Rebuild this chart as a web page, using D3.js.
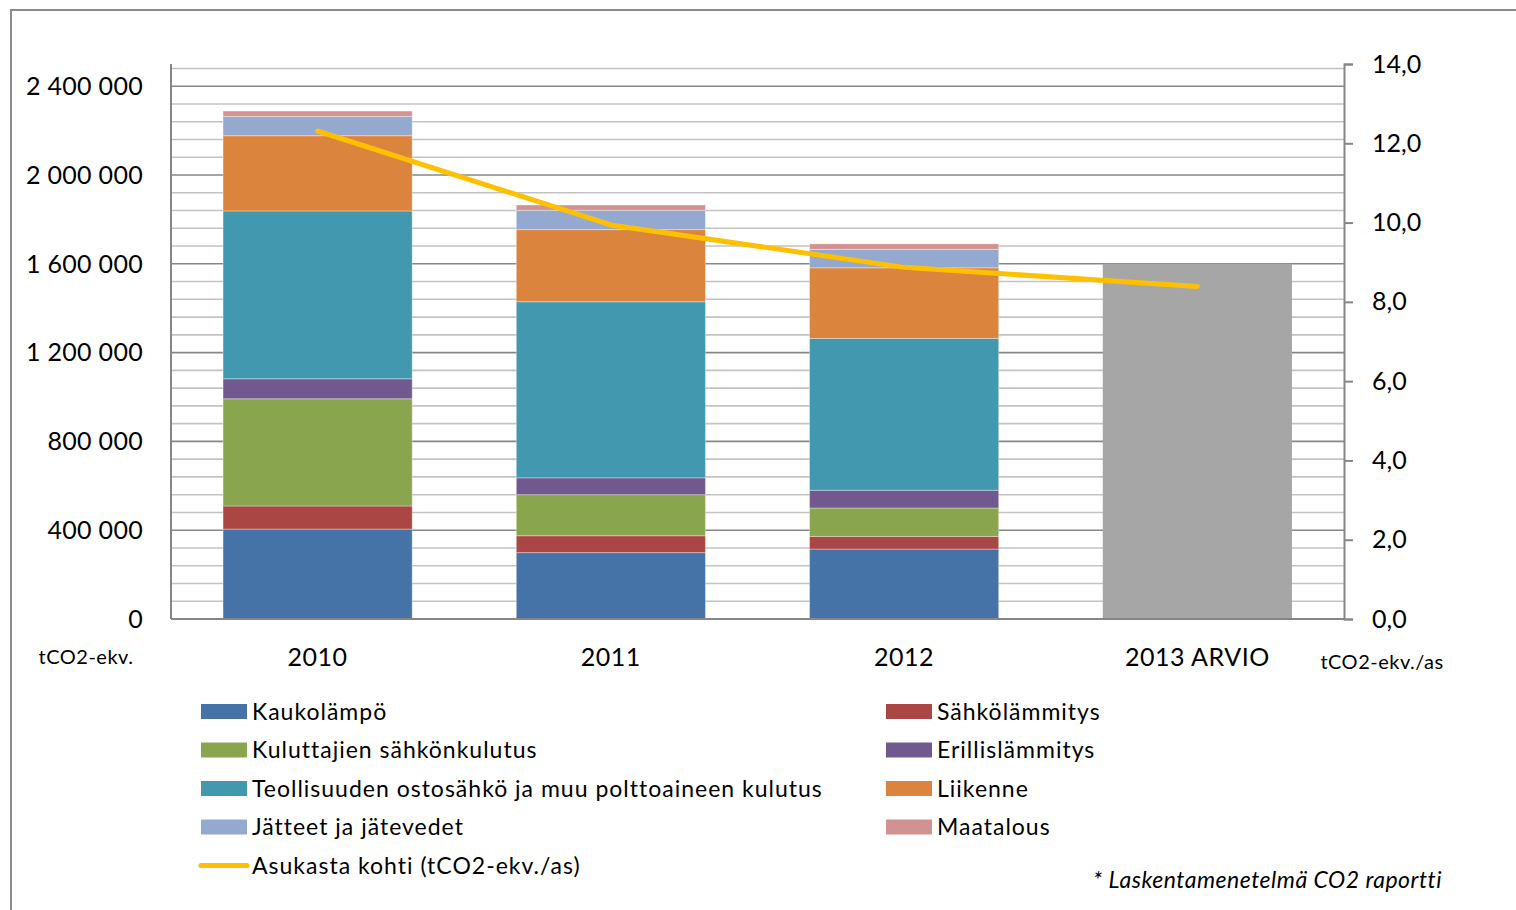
<!DOCTYPE html>
<meta charset='utf-8'>
<style>
	body { margin: 0; background: #fff; }
	svg { display: block; font-family: Lato, 'Open Sans', sans-serif; }
</style>
<body>
<div id='container'></div>
<script src='https://cdn.jsdelivr.net/npm/d3@7'></script>
<script>
	// categories and series
	const years = [ '2010', '2011', '2012', '2013 ARVIO' ];
	const seriesNames = [
		'Kaukolämpö', 'Sähkölämmitys', 'Kuluttajien sähkönkulutus', 'Erillislämmitys',
		'Teollisuuden ostosähkö ja muu polttoaineen kulutus', 'Liikenne', 'Jätteet ja jätevedet', 'Maatalous',
	];
	const seriesColors = [ '#4572A7', '#AA4643', '#89A54E', '#71588F', '#4198AF', '#DB843D', '#93A9CF', '#D19392' ];

	const kaukolampo     = [ 405000, 299000, 315000, 0 ];
	const sahkolammitys  = [ 104000,  76000,  57000, 0 ];
	const kuluttajat     = [ 483000, 185000, 128000, 0 ];
	const erillis        = [  90000,  76000,  80000, 0 ];
	const teollisuus     = [ 756000, 793000, 684000, 0 ];
	const liikenne       = [ 339000, 325000, 318000, 0 ];
	const jatteet        = [  87000,  87000,  83000, 0 ];
	const maatalous      = [  24000,  24000,  25000, 0 ];
	const arvio          = [ 0, 0, 0, 1600000 ];
	const perResident    = [ 12.31, 9.94, 8.87, 8.39 ];

	const leftTicks = [ 0, 400000, 800000, 1200000, 1600000, 2000000, 2400000 ];
	const rightTicks = [ 0, 2, 4, 6, 8, 10, 12, 14 ];

	const seriesValues = [ kaukolampo, sahkolammitys, kuluttajat, erillis, teollisuus, liikenne, jatteet, maatalous ];

	const W = 1516, H = 910;
	const plot = { left: 171, right: 1344, top: 64, bottom: 619 };

	const svg = d3.select( '#container' ).append( 'svg' )
		.attr( 'width', W ).attr( 'height', H );

	// outer chart frame
	svg.append( 'rect' )
		.attr( 'x', 11 ).attr( 'y', 10 )
		.attr( 'width', 1700 ).attr( 'height', 1000 )
		.style( 'fill', 'none' ).style( 'stroke', '#8c8c8c' ).style( 'stroke-width', 2 );

	const x = d3.scaleBand()
		.domain( years )
		.range( [ plot.left, plot.right ] )
		.paddingInner( 0.355 ).paddingOuter( 0.1775 );
	const y = d3.scaleLinear()
		.domain( [ 0, 2500000 ] )
		.range( [ plot.bottom, plot.top ] );
	const y2 = d3.scaleLinear()
		.domain( [ 0, 14 ] )
		.range( [ plot.bottom, plot.top ] );

	// gridlines: major every 400 000, minor every 80 000
	const gridVals = d3.range( 80000, 2500000, 80000 );
	svg.append( 'g' ).selectAll( 'line' )
		.data( gridVals )
		.enter().append( 'line' )
			.attr( 'x1', plot.left ).attr( 'x2', plot.right )
			.attr( 'y1', d => y( d ) ).attr( 'y2', d => y( d ) )
			.style( 'stroke', d => d % 400000 === 0 ? '#878787' : '#c3c3c3' )
			.style( 'stroke-width', 1.6 );

	// stacked bars
	const table = years.map( ( yr, i ) => {
		let row = { year: yr };
		seriesNames.forEach( ( s, j ) => row[ s ] = seriesValues[ j ][ i ] );
		row.arvio = arvio[ i ];
		return row;
	} );
	const stack = d3.stack().keys( seriesNames )( table );

	svg.append( 'g' ).selectAll( 'g' )
		.data( stack )
		.enter().append( 'g' )
			.style( 'fill', ( d, i ) => seriesColors[ i ] )
			.selectAll( 'rect' )
			.data( d => d.filter( v => v[ 1 ] > v[ 0 ] ) )
			.enter().append( 'rect' )
				.attr( 'x', d => x( d.data.year ) )
				.attr( 'width', x.bandwidth() )
				.attr( 'y', d => y( d[ 1 ] ) )
				.attr( 'height', d => y( d[ 0 ] ) - y( d[ 1 ] ) )
				.style( 'stroke', 'rgba(255,255,255,0.35)' )
				.style( 'stroke-width', 1 );

	svg.append( 'g' ).selectAll( 'rect' )
		.data( table.filter( d => d.arvio > 0 ) )
		.enter().append( 'rect' )
			.attr( 'x', d => x( d.year ) )
			.attr( 'width', x.bandwidth() )
			.attr( 'y', d => y( d.arvio ) )
			.attr( 'height', d => y( 0 ) - y( d.arvio ) )
			.style( 'fill', '#A6A6A6' );

	// axes lines
	svg.append( 'line' )
		.attr( 'x1', plot.left ).attr( 'x2', plot.left )
		.attr( 'y1', plot.top ).attr( 'y2', plot.bottom )
		.style( 'stroke', '#868686' ).style( 'stroke-width', 2 );
	svg.append( 'line' )
		.attr( 'x1', plot.left ).attr( 'x2', plot.right )
		.attr( 'y1', plot.bottom ).attr( 'y2', plot.bottom )
		.style( 'stroke', '#868686' ).style( 'stroke-width', 2 );

	const fmtLeft = d => d3.format( ',' )( d ).replace( /,/g, ' ' );
	svg.append( 'g' ).selectAll( 'text' )
		.data( leftTicks )
		.enter().append( 'text' )
			.attr( 'x', 143 )
			.attr( 'y', d => y( d ) )
			.attr( 'dy', '0.35em' )
			.style( 'text-anchor', 'end' )
			.style( 'font-size', '25px' )
			.style( 'letter-spacing', '0.3px' )
			.text( fmtLeft );

	// right axis
	const rightAxis = d3.axisRight( y2 )
		.tickValues( rightTicks )
		.tickSize( 9 )
		.tickPadding( 19 )
		.tickFormat( d => d3.format( '.1f' )( d ).replace( '.', ',' ) );
	const ra = svg.append( 'g' )
		.attr( 'transform', `translate( ${plot.right}, 0 )` )
		.call( rightAxis );
	ra.select( '.domain' ).style( 'stroke', '#868686' ).style( 'stroke-width', 2 );
	ra.selectAll( '.tick line' ).style( 'stroke', '#868686' ).style( 'stroke-width', 2 );
	ra.selectAll( '.tick text' )
		.style( 'font-size', '25px' )
		.style( 'font-family', 'Lato, sans-serif' )
		.style( 'fill', '#000' );

	// category labels
	svg.append( 'g' ).selectAll( 'text' )
		.data( years )
		.enter().append( 'text' )
			.attr( 'x', d => x( d ) + x.bandwidth() / 2 )
			.attr( 'y', 657 )
			.attr( 'dy', '0.35em' )
			.style( 'text-anchor', 'middle' )
			.style( 'font-size', '25px' )
			.style( 'letter-spacing', '0.5px' )
			.text( d => d );

	svg.append( 'text' )
		.attr( 'x', 86 ).attr( 'y', 657 ).attr( 'dy', '0.35em' )
		.style( 'text-anchor', 'middle' ).style( 'font-size', '20px' )
		.style( 'letter-spacing', '0.5px' )
		.text( 'tCO2-ekv.' );
	svg.append( 'text' )
		.attr( 'x', 1382 ).attr( 'y', 662 ).attr( 'dy', '0.35em' )
		.style( 'text-anchor', 'middle' ).style( 'font-size', '20px' )
		.style( 'letter-spacing', '0.5px' )
		.text( 'tCO2-ekv./as' );

	// per resident line
	const line = d3.line()
		.x( ( d, i ) => x( years[ i ] ) + x.bandwidth() / 2 )
		.y( d => y2( d ) );
	svg.append( 'path' )
		.datum( perResident )
		.attr( 'd', line )
		.style( 'fill', 'none' )
		.style( 'stroke', '#FFC000' )
		.style( 'stroke-width', 5 )
		.style( 'stroke-linecap', 'round' )
		.style( 'stroke-linejoin', 'round' );

	// legend
	const legendItems = seriesNames.map( ( s, i ) => ( { name: s, color: seriesColors[ i ], type: 'rect' } ) );
	legendItems.push( { name: 'Asukasta kohti (tCO2-ekv./as)', color: '#FFC000', type: 'line' } );
	const legend = svg.append( 'g' ).selectAll( 'g' )
		.data( legendItems )
		.enter().append( 'g' )
			.attr( 'transform', ( d, i ) => `translate( ${i % 2 ? 886 : 201}, ${711.5 + Math.floor( i / 2 ) * 38.5} )` );
	legend.filter( d => d.type === 'rect' ).append( 'rect' )
		.attr( 'x', 0 ).attr( 'y', -7.5 )
		.attr( 'width', 46 ).attr( 'height', 15 )
		.style( 'fill', d => d.color );
	legend.filter( d => d.type === 'line' ).append( 'line' )
		.attr( 'x1', 0 ).attr( 'x2', 46 ).attr( 'y1', 0 ).attr( 'y2', 0 )
		.style( 'stroke', d => d.color ).style( 'stroke-width', 5 )
		.style( 'stroke-linecap', 'round' );
	legend.append( 'text' )
		.attr( 'x', 51 ).attr( 'y', 0 ).attr( 'dy', '0.35em' )
		.style( 'font-size', '23px' )
		.style( 'letter-spacing', '1px' )
		.text( d => d.name );

	svg.append( 'text' )
		.attr( 'x', 1442 ).attr( 'y', 880 ).attr( 'dy', '0.35em' )
		.style( 'text-anchor', 'end' )
		.style( 'font-size', '23px' ).style( 'font-style', 'italic' )
		.style( 'letter-spacing', '0.5px' )
		.text( '* Laskentamenetelmä CO2 raportti' );
</script>
</body>
